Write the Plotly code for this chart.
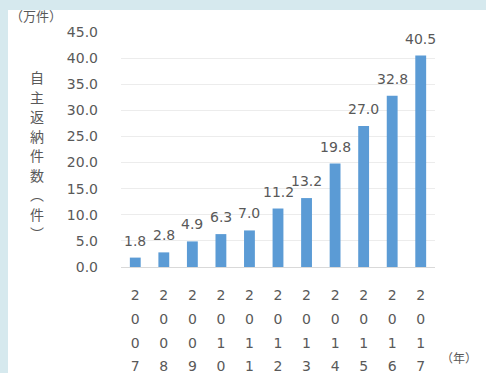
import plotly.graph_objects as go

years = [2007, 2008, 2009, 2010, 2011, 2012, 2013, 2014, 2015, 2016, 2017]
values = [1.8, 2.8, 4.9, 6.3, 7.0, 11.2, 13.2, 19.8, 27.0, 32.8, 40.5]
y_ticks = [0, 5, 10, 15, 20, 25, 30, 35, 40, 45]
y_ticktext = [f"{v:.1f}" for v in y_ticks]
y_title_chars = ["自", "主", "返", "納", "件", "数", "︵", "件", "︶"]
unit_y = "（万件）"
unit_x = "（年）"

TXT = "#595959"
FONT = "DejaVu Sans"
CJK = "Noto Sans CJK JP"
W, H = 486, 373
L, R, T, B = 121, 51, 32, 106
pw, ph = W - L - R, H - T - B
BASE = T + ph


def px_x(p):
    return (p - L) / pw


def px_y(p):
    return (BASE - p) / ph


def vlabel(s, size):
    return "<br>".join(f"<span style='font-size:{size}px'>{c}</span>" for c in s)


fig = go.Figure()
fig.add_trace(go.Bar(x=years, y=values, marker=dict(color="#5b9bd5", line=dict(width=0)),
                     hoverinfo="skip"))

for x, v in zip(years, values):
    fig.add_annotation(x=x, y=v, text=f"{v:.1f}", showarrow=False, yanchor="bottom",
                       xanchor="center", yshift=7,
                       font=dict(family=FONT, size=14, color=TXT))

# white panel
fig.add_shape(type="rect", xref="paper", yref="paper",
              x0=px_x(8), x1=px_x(W + 5), y0=px_y(H + 5), y1=px_y(10),
              fillcolor="white", line=dict(width=0), layer="below")

fig.add_annotation(xref="paper", yref="paper", x=px_x(37), y=px_y(155),
                   xanchor="center", yanchor="middle",
                   text=vlabel(y_title_chars, 14), showarrow=False,
                   font=dict(family=CJK, size=15, color=TXT))
fig.add_annotation(xref="paper", yref="paper", x=px_x(8), y=px_y(16),
                   xanchor="left", yanchor="middle", text=unit_y, showarrow=False,
                   font=dict(family=CJK, size=13, color=TXT))
fig.add_annotation(xref="paper", yref="paper", x=px_x(459), y=px_y(357),
                   xanchor="center", yanchor="middle", text=unit_x, showarrow=False,
                   font=dict(family=CJK, size=12, color=TXT))

fig.update_layout(
    width=W, height=H, margin=dict(l=L, r=R, t=T, b=B, autoexpand=False),
    paper_bgcolor="#d6e9ee", plot_bgcolor="white",
    showlegend=False, bargap=0.62,
    xaxis=dict(type="linear", range=[2006.5, 2017.5], tickmode="array", tickvals=years,
               ticktext=[vlabel(str(y), 14) for y in years], tickangle=0,
               tickfont=dict(family=FONT, size=18.3, color=TXT), automargin=False,
               showline=True, linecolor="#d9d9d9", linewidth=1,
               showgrid=False, zeroline=False, ticks="", ticklabelstandoff=10),
    yaxis=dict(range=[0, 45], tickmode="array", tickvals=y_ticks, ticktext=y_ticktext,
               tickfont=dict(family=FONT, size=14, color=TXT), automargin=False,
               showgrid=True, gridcolor="#ececec", gridwidth=1,
               zeroline=False, showline=False, ticks="", ticklabelstandoff=22),
)

fig.write_html("out.html")
